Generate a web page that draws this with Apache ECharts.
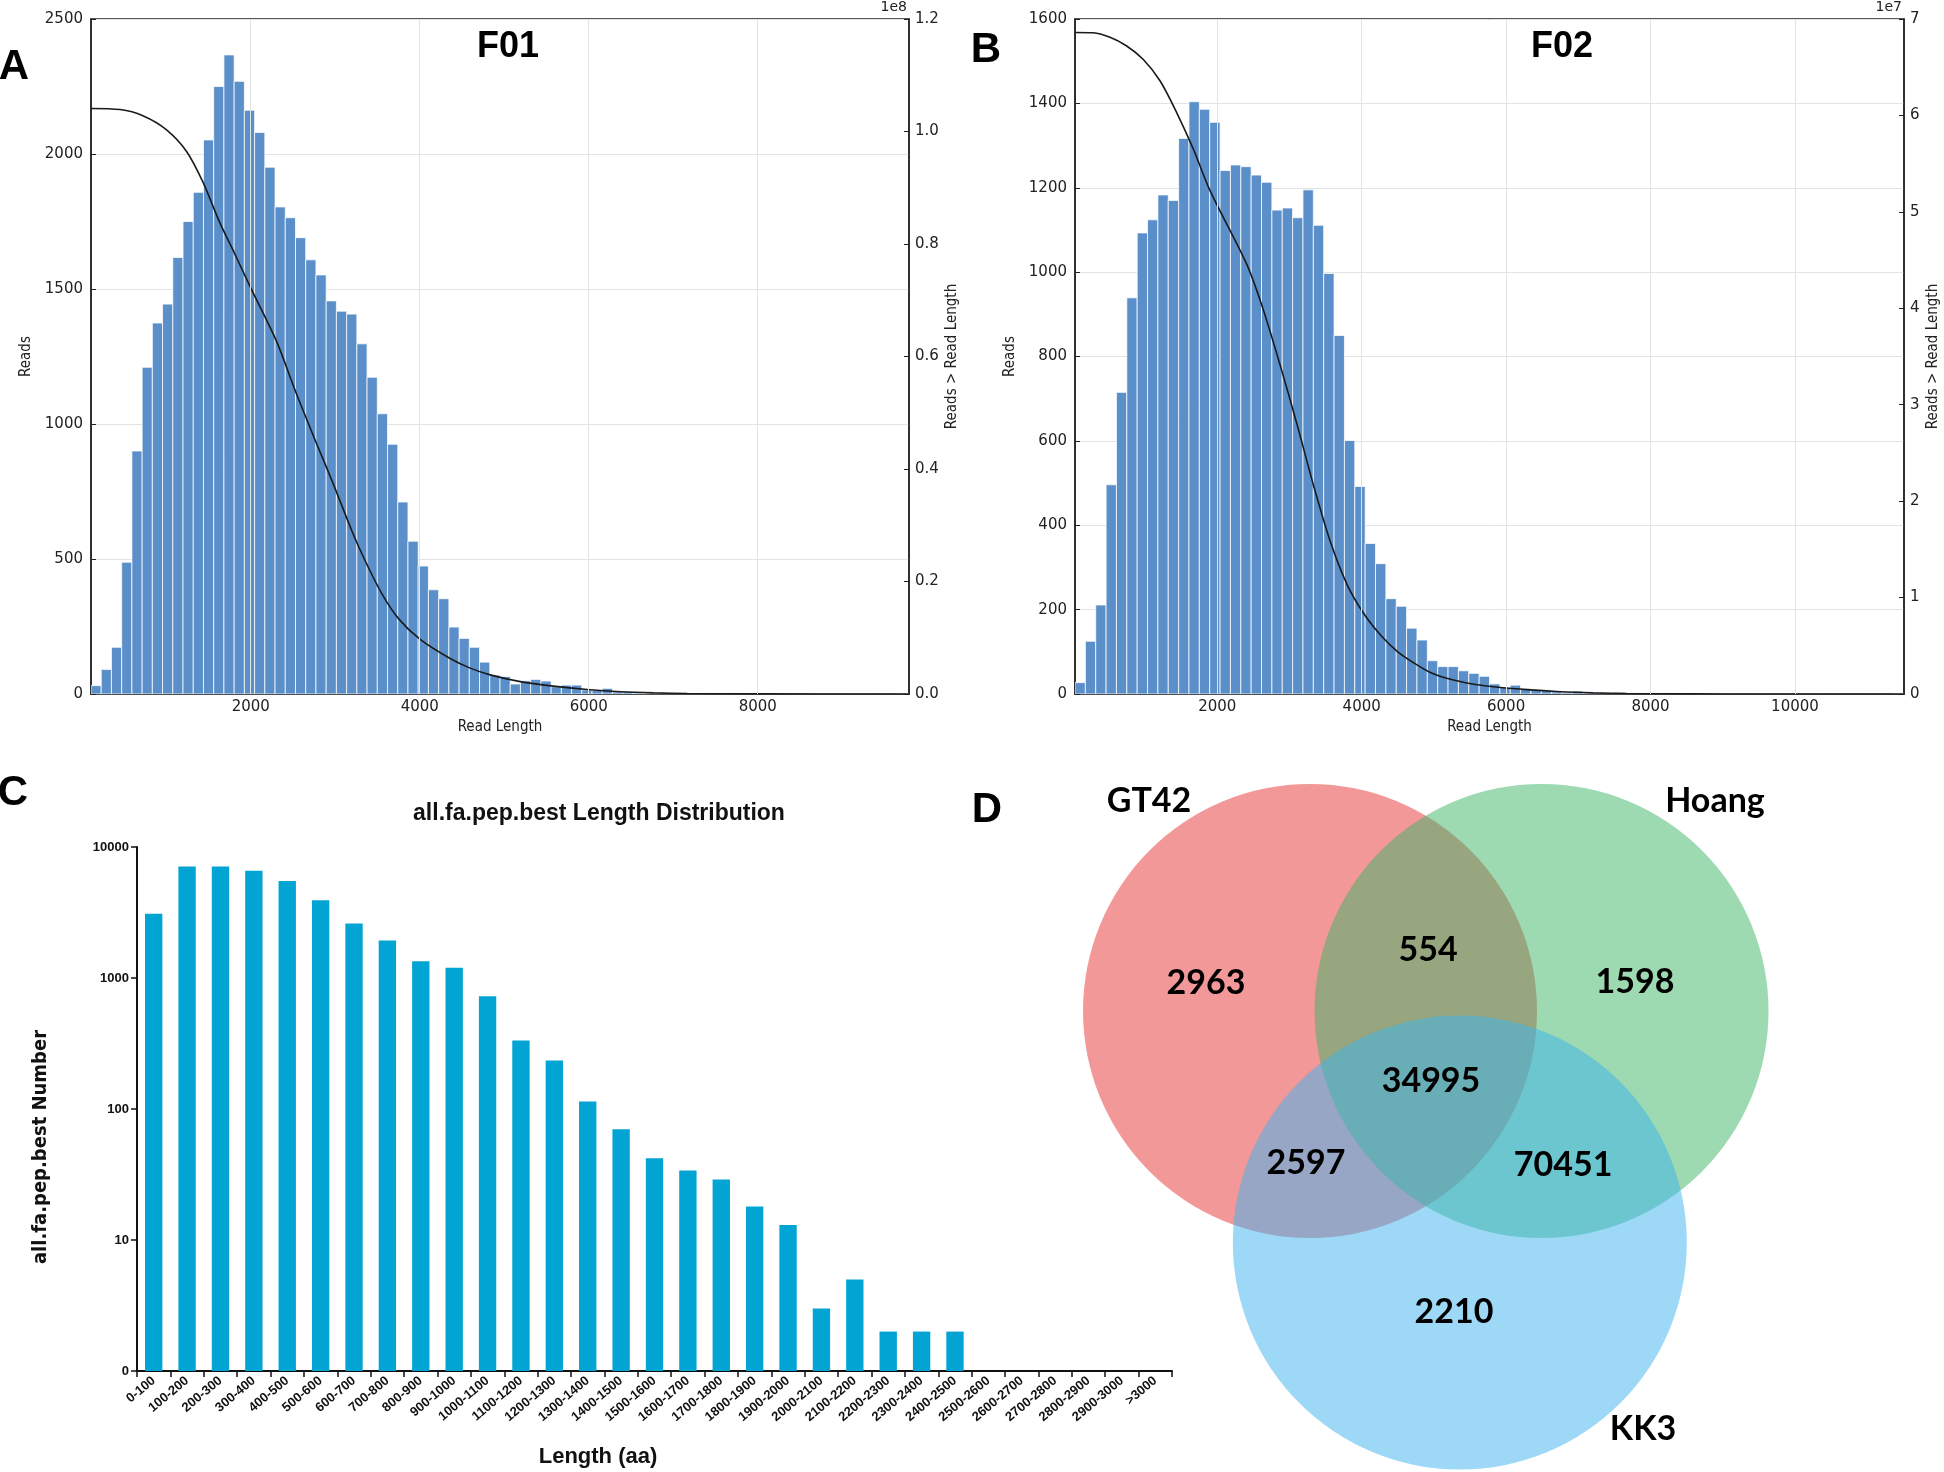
<!DOCTYPE html>
<html><head><meta charset="utf-8">
<script src="https://cdn.jsdelivr.net/npm/echarts@6/dist/echarts.min.js"></script>
<style>html,body{margin:0;padding:0;background:#fff}#c{width:1944px;height:1472px}</style>
</head><body><div id="c"></div>
<script>
// ---------- Panel A (F01) ----------
const binStartA = 110, binWidthA = 121;
const readsA = [31, 91, 173, 488, 900, 1210, 1374, 1444, 1617, 1750, 1858, 2052, 2250, 2367, 2269, 2162, 2080, 1951, 1804, 1764,
  1690, 1608, 1552, 1456, 1418, 1407, 1297, 1173, 1038, 925, 711, 566, 474, 386, 353, 248, 206, 173, 118, 70,
  65, 37, 49, 54, 48, 27, 33, 33, 15, 13, 21, 8, 8, 4, 3, 2, 2, 1, 1, 1,
  0, 1, 0, 0, 1, 0, 0, 0, 0, 0, 0, 0, 0, 0, 0, 0, 0, 0, 0, 1];
const cumA = [[110,1.041],[455,1.039],[724,1.028],[1004,1.003],[1239,0.965],[1435,0.910],[1631,0.839],[1788,0.79],
  [2000,0.722],[2300,0.629],[2533,0.537],[2769,0.449],[2965,0.378],[3200,0.289],[3357,0.236],[3553,0.178],[3749,0.134],
  [4005,0.097],[4360,0.063],[4597,0.046],[4834,0.034],[5190,0.022],[5580,0.014],[5980,0.008],[6375,0.004],[6770,0.002],
  [7166,0.001],[8000,0.0003],[9790,0]];
const ticksA = [2000, 4000, 6000, 8000];

// ---------- Panel B (F02) ----------
const binStartB = 30, binWidthB = 143.5;
const readsB = [27, 125, 211, 496, 715, 939, 1093, 1124, 1183, 1170, 1317, 1404, 1386, 1355, 1241, 1254, 1250, 1230, 1213, 1147,
  1152, 1129, 1195, 1111, 997, 850, 601, 492, 357, 309, 226, 208, 156, 128, 79, 65, 65, 55, 49, 42,
  24, 16, 21, 13, 9, 8, 5, 3, 7, 3, 2, 2, 4, 1, 1, 0, 1, 0, 0, 0,
  0, 0, 0, 0, 0, 0, 0, 0, 0, 0, 0, 0, 0, 0, 0, 0, 0, 0, 0, 1];
const cumB = [[30,6.86],[283,6.857],[515,6.81],[746,6.72],[976,6.58],[1207,6.36],[1438,6.03],[1669,5.65],[1900,5.22],
  [2412,4.45],[2644,3.97],[2875,3.40],[3107,2.79],[3338,2.15],[3570,1.57],[3801,1.13],[4033,0.83],[4264,0.61],[4496,0.44],
  [4727,0.32],[4959,0.22],[5190,0.16],[5422,0.12],[5653,0.09],[5823,0.075],[6285,0.045],[6747,0.024],[7208,0.012],
  [7670,0.005],[8130,0.002],[9000,0.0005],[11510,0]];
const ticksB = [2000, 4000, 6000, 8000, 10000];

// ---------- Panel C ----------
const lengthCats = ['0-100','100-200','200-300','300-400','400-500','500-600','600-700','700-800','800-900','900-1000',
  '1000-1100','1100-1200','1200-1300','1300-1400','1400-1500','1500-1600','1600-1700','1700-1800','1800-1900','1900-2000',
  '2000-2100','2100-2200','2200-2300','2300-2400','2400-2500','2500-2600','2600-2700','2700-2800','2800-2900','2900-3000','>3000'];
const pepCounts = [3090, 7100, 7100, 6590, 5500, 3930, 2610, 1930, 1345, 1200, 727, 334, 235, 114, 70, 42, 34, 29, 18, 13,
  3, 5, 2, 2, 2, '-', '-', '-', '-', '-', '-'];

// ---------- Panel D (Venn) ----------
const vennSets = ['GT42', 'Hoang', 'KK3'];
const vennCenters = [[0, 0], [1.02, 0], [0.66, -1.02]];
const vennRadius = 1;
const vennRegionCounts = ['2963', '554', '1598', '34995', '2597', '70451', '2210'];
const vennRegionPos = [[-0.458, 0.123], [0.520, 0.269], [1.432, 0.128], [0.533, -0.308], [-0.018, -0.670], [1.115, -0.678], [0.634, -1.326]];
const vennSetLabelPos = [[-0.709, 0.925], [1.784, 0.925], [1.467, -1.841]];
const vennColors = ['rgba(231,49,49,0.5)', 'rgba(60,180,100,0.5)', 'rgba(60,180,240,0.5)'];

function histData(start, w, counts) { return counts.map((v, i) => [start + i * w, start + (i + 1) * w, v]); }
function renderHist(params, api) {
  const p0 = api.coord([api.value(0), api.value(2)]);
  const p1 = api.coord([api.value(1), 0]);
  return { type: 'rect', shape: { x: p0[0], y: p0[1], width: p1[0] - p0[0], height: p1[1] - p0[1] },
    style: { fill: '#5b8fc9', stroke: 'rgba(255,255,255,0.85)', lineWidth: 0.9 } };
}
function renderVenn(params, api) {
  const c = api.coord([api.value(0), api.value(1)]);
  const r = api.size([api.value(2), 0])[0];
  return { type: 'circle', shape: { cx: c[0], cy: c[1], r: r }, style: { fill: vennColors[params.dataIndex] } };
}

const mplLabel = { fontFamily: 'DejaVu Sans', fontSize: 15, color: '#222' };
const mplName = { fontFamily: 'DejaVu Sans Condensed, DejaVu Sans', fontSize: 15, color: '#222' };
const gridLineStyle = { color: '#e3e3e3', width: 1 };
const plain = v => String(v);

function histXAxis(gi, min, max, ticks) {
  return { type: 'value', gridIndex: gi, min: min, max: max, name: 'Read Length', nameLocation: 'middle', nameGap: 26,
    nameTextStyle: mplName,
    axisLine: { show: true, lineStyle: { color: '#222', width: 1.5 } },
    axisTick: { show: true, inside: true, length: 5, customValues: ticks, lineStyle: { color: '#222' } },
    axisLabel: Object.assign({ customValues: ticks, margin: 6, formatter: plain }, mplLabel),
    splitLine: { show: false } };
}
function leftY(gi, max, interval) {
  return { type: 'value', gridIndex: gi, min: 0, max: max, interval: interval, position: 'left',
    name: 'Reads', nameLocation: 'middle', nameGap: 57, nameTextStyle: mplName,
    axisLine: { show: true, lineStyle: { color: '#222', width: 1.5 } },
    axisTick: { show: true, inside: true, length: 5, lineStyle: { color: '#222' } },
    axisLabel: Object.assign({ margin: 8, formatter: plain }, mplLabel),
    splitLine: { show: true, lineStyle: gridLineStyle } };
}
function rightY(gi, max, interval, gap, fmt) {
  return { type: 'value', gridIndex: gi, min: 0, max: max, interval: interval, position: 'right',
    name: 'Reads > Read Length', nameLocation: 'middle', nameGap: gap, nameTextStyle: mplName,
    axisLine: { show: true, lineStyle: { color: '#222', width: 1.5 } },
    axisTick: { show: true, inside: true, length: 5, lineStyle: { color: '#222' } },
    axisLabel: Object.assign({ margin: 6, formatter: fmt }, mplLabel),
    splitLine: { show: false } };
}
function gridMarks(xi, yi, ticks) {
  return { type: 'line', xAxisIndex: xi, yAxisIndex: yi, data: [[ticks[0], 0]], symbol: 'none', lineStyle: { opacity: 0 }, z: 1, silent: true,
    markLine: { silent: true, symbol: 'none', label: { show: false }, lineStyle: { color: '#e3e3e3', width: 1, type: 'solid' },
      animation: false, data: ticks.map(t => ({ xAxis: t })) } };
}
const vennLabel = { show: true, position: 'inside', formatter: '{b}', fontFamily: 'Lato, Open Sans, sans-serif',
  fontWeight: 'bold', fontSize: 34, color: '#000', opacity: 1 };

const boldArial = 'Liberation Sans, Arial, sans-serif';
const graphics = [
  { type: 'text', x: 14, y: 67, style: { text: 'A', font: 'bold 42px ' + boldArial, fill: '#000', align: 'center', verticalAlign: 'middle' } },
  { type: 'text', x: 986, y: 50, style: { text: 'B', font: 'bold 42px ' + boldArial, fill: '#000', align: 'center', verticalAlign: 'middle' } },
  { type: 'text', x: 13, y: 793, style: { text: 'C', font: 'bold 42px ' + boldArial, fill: '#000', align: 'center', verticalAlign: 'middle' } },
  { type: 'text', x: 987, y: 810, style: { text: 'D', font: 'bold 42px ' + boldArial, fill: '#000', align: 'center', verticalAlign: 'middle' } },
  { type: 'text', x: 508, y: 47, style: { text: 'F01', font: 'bold 36px ' + boldArial, fill: '#000', align: 'center', verticalAlign: 'middle' } },
  { type: 'text', x: 1562, y: 47, style: { text: 'F02', font: 'bold 36px ' + boldArial, fill: '#000', align: 'center', verticalAlign: 'middle' } },
  { type: 'text', x: 907, y: 7, style: { text: '1e8', font: '14px DejaVu Sans', fill: '#222', align: 'right', verticalAlign: 'middle' } },
  { type: 'text', x: 1902, y: 7, style: { text: '1e7', font: '14px DejaVu Sans', fill: '#222', align: 'right', verticalAlign: 'middle' } },
  { type: 'text', x: 599, y: 814, style: { text: 'all.fa.pep.best Length Distribution', font: 'bold 23px ' + boldArial, fill: '#111', align: 'center', verticalAlign: 'middle' } },
  { type: 'text', x: 598, y: 1457, style: { text: 'Length (aa)', font: 'bold 22px ' + boldArial, fill: '#111', align: 'center', verticalAlign: 'middle' } },
  { type: 'text', x: 41, y: 1147, rotation: Math.PI / 2, style: { text: 'all.fa.pep.best Number', font: 'bold 20px Liberation Sans Narrow, DejaVu Sans Condensed, Arial', fill: '#111', align: 'center', verticalAlign: 'middle' } }
];

const option = {
  backgroundColor: '#fff',
  animation: false,
  graphic: graphics,
  grid: [
    { left: 91, top: 19, width: 818, height: 675, show: true, borderColor: '#222', borderWidth: 1.5, backgroundColor: 'transparent' },
    { left: 1075, top: 19, width: 829, height: 675, show: true, borderColor: '#222', borderWidth: 1.5, backgroundColor: 'transparent' },
    { left: 137, top: 847, width: 1035, height: 524 },
    { left: 1037.6, top: 738.6, width: 771.8, height: 726.4 }
  ],
  xAxis: [
    histXAxis(0, 110, 9790, ticksA),
    histXAxis(1, 30, 11510, ticksB),
    { type: 'category', gridIndex: 2, data: lengthCats,
      axisLine: { lineStyle: { color: '#111', width: 2 } },
      axisTick: { show: true, alignWithLabel: false, length: 6, lineStyle: { color: '#111', width: 1.5 } },
      axisLabel: { rotate: 40, interval: 0, fontFamily: boldArial, fontWeight: 'bold', fontSize: 13, color: '#111', margin: 8 } },
    { type: 'value', gridIndex: 3, min: -1.2, max: 2.2, show: false }
  ],
  yAxis: [
    leftY(0, 2500, 500),
    rightY(0, 1.2, 0.2, 36, v => v.toFixed(1)),
    leftY(1, 1600, 200),
    rightY(1, 7, 1, 22, plain),
    { type: 'log', gridIndex: 2, logBase: 10, min: 1, max: 10000,
      axisLine: { show: true, lineStyle: { color: '#111', width: 2 } },
      axisTick: { show: true, length: 6, lineStyle: { color: '#111', width: 1.5 } },
      axisLabel: { fontFamily: boldArial, fontWeight: 'bold', fontSize: 13, color: '#111', margin: 8,
        formatter: v => (v === 1 ? '0' : String(v)) },
      splitLine: { show: false } },
    { type: 'value', gridIndex: 3, min: -2.0, max: 1.2, show: false }
  ],
  series: [
    gridMarks(0, 0, ticksA),
    { type: 'custom', xAxisIndex: 0, yAxisIndex: 0, z: 2, clip: true, renderItem: renderHist,
      encode: { x: [0, 1], y: 2 }, data: histData(binStartA, binWidthA, readsA) },
    { type: 'line', xAxisIndex: 0, yAxisIndex: 1, z: 3, data: cumA, smooth: 0.3, showSymbol: false,
      lineStyle: { color: '#1a1a1a', width: 1.6 } },
    gridMarks(1, 2, ticksB),
    { type: 'custom', xAxisIndex: 1, yAxisIndex: 2, z: 2, clip: true, renderItem: renderHist,
      encode: { x: [0, 1], y: 2 }, data: histData(binStartB, binWidthB, readsB) },
    { type: 'line', xAxisIndex: 1, yAxisIndex: 3, z: 3, data: cumB, smooth: 0.3, showSymbol: false,
      lineStyle: { color: '#1a1a1a', width: 1.6 } },
    { type: 'bar', xAxisIndex: 2, yAxisIndex: 4, data: pepCounts, barWidth: '52%',
      itemStyle: { color: '#02a4d3' } },
    { type: 'custom', xAxisIndex: 3, yAxisIndex: 5, renderItem: renderVenn, encode: { x: 0, y: 1 },
      data: vennCenters.map(c => [c[0], c[1], vennRadius]) },
    { type: 'scatter', xAxisIndex: 3, yAxisIndex: 5, symbolSize: 1, itemStyle: { color: 'rgba(0,0,0,0)' }, z: 5,
      label: vennLabel, data: vennRegionCounts.map((n, i) => ({ name: n, value: vennRegionPos[i] })) },
    { type: 'scatter', xAxisIndex: 3, yAxisIndex: 5, symbolSize: 1, itemStyle: { color: 'rgba(0,0,0,0)' }, z: 5,
      label: vennLabel, data: vennSets.map((n, i) => ({ name: n, value: vennSetLabelPos[i] })) }
  ]
};
const chart = echarts.init(document.getElementById('c'));
chart.setOption(option);
</script></body></html>
